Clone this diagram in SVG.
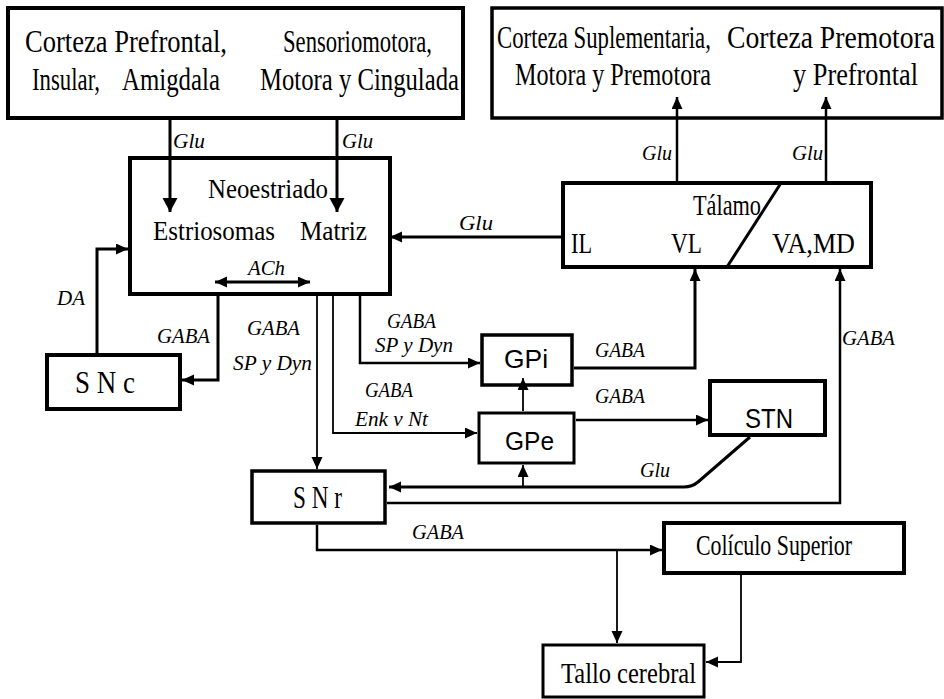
<svg xmlns="http://www.w3.org/2000/svg" width="944" height="699" viewBox="0 0 944 699">
<style>
.box{fill:#fff;stroke:#000;stroke-width:4}
.t{font-family:"Liberation Serif","Times New Roman",serif;font-size:30px;fill:#000}
.s{font-family:"Liberation Sans",Arial,sans-serif;font-size:26px;fill:#000}
.l{font-family:"Liberation Serif","Times New Roman",serif;font-style:italic;font-size:21px;fill:#000}
.c{fill:none;stroke:#000;stroke-width:2.5}
.thin{stroke-width:1.8}
.thick{stroke-width:3}
</style>
<defs>
<marker id="ah" markerUnits="userSpaceOnUse" markerWidth="13" markerHeight="12" refX="12" refY="5.5" orient="auto">
<path d="M0,0 L12,5.5 L0,11 z" fill="#000"/>
</marker>
<marker id="ahs" markerUnits="userSpaceOnUse" markerWidth="13" markerHeight="12" refX="12" refY="5.5" orient="auto-start-reverse">
<path d="M0,0 L12,5.5 L0,11 z" fill="#000"/>
</marker>
<marker id="ahL" markerUnits="userSpaceOnUse" markerWidth="15" markerHeight="16" refX="14" refY="7.5" orient="auto">
<path d="M0,0 L14,7.5 L0,15 z" fill="#000"/>
</marker>
</defs>
<rect width="944" height="699" fill="#fff"/>

<g id="corteza-izq">
<rect class="box" x="8" y="8" width="455" height="110"/>
<text class="t" x="25" y="52" textLength="202" lengthAdjust="spacingAndGlyphs" style="font-size:31px">Corteza Prefrontal,</text>
<text class="t" x="32" y="90" textLength="68" lengthAdjust="spacingAndGlyphs" style="font-size:31px">Insular,</text>
<text class="t" x="122" y="90" textLength="98" lengthAdjust="spacingAndGlyphs" style="font-size:31px">Amigdala</text>
<text class="t" x="283" y="52" textLength="149" lengthAdjust="spacingAndGlyphs" style="font-size:31px">Sensoriomotora,</text>
<text class="t" x="260" y="90" textLength="199" lengthAdjust="spacingAndGlyphs" style="font-size:31px">Motora y Cingulada</text>
</g>

<g id="corteza-der">
<rect class="box" x="492" y="8" width="450" height="110" style="stroke-width:3.5"/>
<text class="t" transform="translate(497,48) scale(0.74,1)" x="0" y="0" textLength="289" lengthAdjust="spacingAndGlyphs" style="font-size:31px">Corteza Suplementaria,</text>
<text class="t" transform="translate(727,48) scale(0.74,1)" x="0" y="0" textLength="281" lengthAdjust="spacingAndGlyphs" style="font-size:31px">Corteza Premotora</text>
<text class="t" x="515" y="85" textLength="196" lengthAdjust="spacingAndGlyphs" style="font-size:31px">Motora y Premotora</text>
<text class="t" x="793" y="85" textLength="125" lengthAdjust="spacingAndGlyphs" style="font-size:31px">y Prefrontal</text>
</g>

<g id="neoestriado">
<rect class="box" x="130" y="158" width="260" height="136"/>
<text class="t" x="208" y="198" textLength="120" lengthAdjust="spacingAndGlyphs" style="font-size:28px">Neoestriado</text>
<text class="t" x="153" y="240" textLength="122" lengthAdjust="spacingAndGlyphs" style="font-size:28px">Estriosomas</text>
<text class="t" x="300" y="240" textLength="67" lengthAdjust="spacingAndGlyphs" style="font-size:28px">Matriz</text>
</g>

<g id="talamo">
<rect class="box" x="563" y="183" width="308" height="84"/>
<line x1="781" y1="183" x2="727" y2="267" stroke="#000" stroke-width="3"/>
<text class="t" x="693" y="215" textLength="68" lengthAdjust="spacingAndGlyphs" style="font-size:29px">Tálamo</text>
<text class="t" x="571" y="253" textLength="21" lengthAdjust="spacingAndGlyphs" style="font-size:29px">IL</text>
<text class="t" x="671" y="253" textLength="31" lengthAdjust="spacingAndGlyphs" style="font-size:29px">VL</text>
<text class="t" x="772" y="253" textLength="83" lengthAdjust="spacingAndGlyphs" style="font-size:29px">VA,MD</text>
</g>

<g id="snc">
<rect class="box" x="47" y="355" width="133" height="54"/>
<text class="t" x="75" y="393" textLength="60" lengthAdjust="spacingAndGlyphs" style="font-size:31px">S N c</text>
</g>

<g id="snr">
<rect class="box" x="252" y="471" width="133" height="52" style="stroke-width:3.5"/>
<text class="t" x="293" y="508" textLength="49" lengthAdjust="spacingAndGlyphs" style="font-size:31px">S N r</text>
</g>

<g id="gpi">
<rect class="box" x="482" y="335" width="90" height="50" style="stroke-width:3.5"/>
<text class="s" x="504" y="368" textLength="44" lengthAdjust="spacingAndGlyphs">GPi</text>
</g>

<g id="gpe">
<rect class="box" x="479" y="413" width="95" height="50" style="stroke-width:3"/>
<text class="s" x="505" y="450" textLength="49" lengthAdjust="spacingAndGlyphs">GPe</text>
</g>

<g id="stn">
<rect class="box" x="710" y="381" width="115" height="54"/>
<text class="s" x="745" y="428" textLength="48" lengthAdjust="spacingAndGlyphs" style="font-size:28px">STN</text>
</g>

<g id="coliculo">
<rect class="box" x="664" y="523" width="240" height="50"/>
<text class="t" x="696" y="555" textLength="156" lengthAdjust="spacingAndGlyphs">Colículo Superior</text>
</g>

<g id="tallo">
<rect class="box" x="543" y="645" width="161" height="52" style="stroke-width:3"/>
<text class="t" x="561" y="683" textLength="135" lengthAdjust="spacingAndGlyphs">Tallo cerebral</text>
</g>

<g id="connectors">
<path class="c thick" d="M170,120 V212" marker-end="url(#ahL)"/>
<path class="c thick" d="M337,120 V212" marker-end="url(#ahL)"/>
<path class="c thick" d="M561,237 H390" marker-end="url(#ah)"/>
<path class="c" d="M677,181 V97" marker-end="url(#ah)"/>
<path class="c" d="M826,181 V97" marker-end="url(#ah)"/>
<path class="c thick" d="M215,282 H310" marker-start="url(#ahs)" marker-end="url(#ahs)"/>
<path class="c thick" d="M218,296 V380 H182" marker-end="url(#ah)"/>
<path class="c thick" d="M97,353 V249 H128" marker-end="url(#ah)"/>
<path class="c thin" d="M317,296 V469" marker-end="url(#ah)"/>
<path class="c thin" d="M333,296 V433 H477" marker-end="url(#ah)"/>
<path class="c" d="M360,296 V363 H480" marker-end="url(#ah)"/>
<path class="c thick" d="M574,368 H695 V269" marker-end="url(#ah)"/>
<path class="c thin" d="M523,411 V378" marker-end="url(#ah)"/>
<path class="c" d="M576,420 H708" marker-end="url(#ah)"/>
<path class="c thick" d="M750,437 L698,482 Q692,487 684,487 H389" marker-end="url(#ah)"/>
<path class="c thin" d="M523,487 V465" marker-end="url(#ah)"/>
<path class="c" d="M387,503 H840 V269" marker-end="url(#ah)"/>
<path class="c" d="M317,525 V550 H662" marker-end="url(#ah)"/>
<path class="c thin" d="M617,550 V643" marker-end="url(#ah)"/>
<path class="c thin" d="M741,575 V662 H706" marker-end="url(#ah)"/>
</g>

<g id="labels">
<text class="l" x="173" y="148" textLength="32" lengthAdjust="spacingAndGlyphs">Glu</text>
<text class="l" x="342" y="148" textLength="31" lengthAdjust="spacingAndGlyphs">Glu</text>
<text class="l" x="459" y="230" textLength="34" lengthAdjust="spacingAndGlyphs">Glu</text>
<text class="l" x="642" y="160" textLength="30" lengthAdjust="spacingAndGlyphs">Glu</text>
<text class="l" x="792" y="160" textLength="31" lengthAdjust="spacingAndGlyphs">Glu</text>
<text class="l" x="248" y="275" textLength="37" lengthAdjust="spacingAndGlyphs">ACh</text>
<text class="l" x="57" y="305" textLength="28" lengthAdjust="spacingAndGlyphs">DA</text>
<text class="l" x="157" y="343" textLength="53" lengthAdjust="spacingAndGlyphs">GABA</text>
<text class="l" x="247" y="335" textLength="53" lengthAdjust="spacingAndGlyphs">GABA</text>
<text class="l" x="233" y="370" textLength="79" lengthAdjust="spacingAndGlyphs">SP y Dyn</text>
<text class="l" x="387" y="328" textLength="49" lengthAdjust="spacingAndGlyphs">GABA</text>
<text class="l" x="375" y="352" textLength="78" lengthAdjust="spacingAndGlyphs">SP y Dyn</text>
<text class="l" x="365" y="397" textLength="48" lengthAdjust="spacingAndGlyphs">GABA</text>
<text class="l" x="355" y="426" textLength="73" lengthAdjust="spacingAndGlyphs">Enk v Nt</text>
<text class="l" x="595" y="357" textLength="50" lengthAdjust="spacingAndGlyphs">GABA</text>
<text class="l" x="595" y="403" textLength="50" lengthAdjust="spacingAndGlyphs">GABA</text>
<text class="l" x="640" y="477" textLength="30" lengthAdjust="spacingAndGlyphs">Glu</text>
<text class="l" x="842" y="345" textLength="53" lengthAdjust="spacingAndGlyphs">GABA</text>
<text class="l" x="412" y="539" textLength="52" lengthAdjust="spacingAndGlyphs">GABA</text>
</g>
</svg>
